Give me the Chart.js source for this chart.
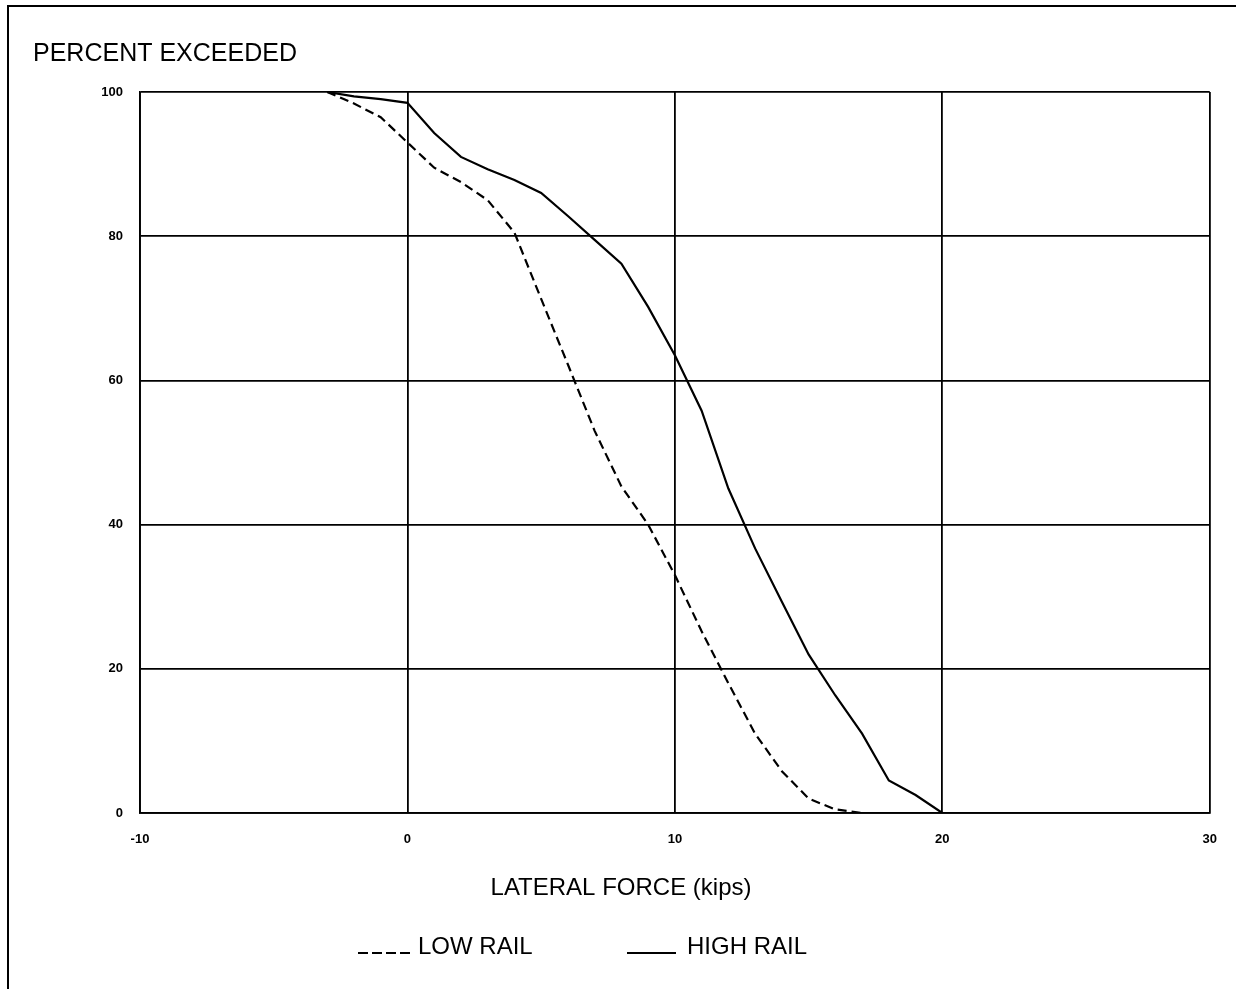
<!DOCTYPE html>
<html>
<head>
<meta charset="utf-8">
<title>Percent Exceeded vs Lateral Force</title>
<script src="https://cdn.jsdelivr.net/npm/chart.js@4/dist/chart.umd.min.js"></script>
<style>
  html, body { margin: 0; padding: 0; background: #fff; }
  canvas { display: block; }
</style>
</head>
<body>
<canvas id="chart" width="1236" height="989"></canvas>
<script>
// Lateral force (kips) and percent of wheel passes exceeding it
const lowRailForce = [-3, -2, -1, 0, 1, 2, 3, 4, 5, 6, 7, 8, 9, 10, 11, 12, 13, 14, 15, 16, 17];
const lowRailPct   = [100, 98.4, 96.5, 93, 89.5, 87.5, 85, 80.5, 71.3, 62.2, 53, 45.3, 40, 33, 25.2, 18, 11, 5.8, 2, 0.5, 0];

const highRailForce = [-3, -2, -1, 0, 1, 2, 3, 4, 5, 6, 7, 8, 9, 10, 11, 12, 13, 14, 15, 16, 17, 18, 19, 20];
const highRailPct   = [100, 99.4, 99, 98.5, 94.3, 91, 89.3, 87.8, 86, 82.8, 79.5, 76.2, 70.2, 63.5, 55.8, 45, 36.7, 29.3, 22, 16.3, 11, 4.5, 2.5, 0];

const xTicks = [-10, 0, 10, 20, 30];
const yTicks = [0, 20, 40, 60, 80, 100];

const seriesNames = ['LOW RAIL', 'HIGH RAIL'];
const yTitle = 'PERCENT EXCEEDED';
const xTitle = 'LATERAL FORCE (kips)';

const FONT = '"Liberation Sans", Arial, Helvetica, sans-serif';

function toPoints(xs, ys) {
  return xs.map((x, i) => ({ x: x, y: ys[i] }));
}

// Page frame, titles and the underline-style legend
const decorations = {
  id: 'decorations',
  beforeDraw(chart) {
    const ctx = chart.ctx;
    ctx.save();
    ctx.fillStyle = '#fff';
    ctx.fillRect(0, 0, chart.width, chart.height);
    ctx.strokeStyle = '#000';
    ctx.lineWidth = 2;
    ctx.beginPath();
    ctx.moveTo(8, chart.height);
    ctx.lineTo(8, 6);
    ctx.lineTo(chart.width, 6);
    ctx.stroke();
    ctx.restore();
  },
  afterDraw(chart) {
    const ctx = chart.ctx;
    ctx.save();
    ctx.fillStyle = '#000';
    ctx.textBaseline = 'alphabetic';

    ctx.font = '25px ' + FONT;
    ctx.textAlign = 'left';
    ctx.fillText(yTitle, 33, 61);

    ctx.font = '24px ' + FONT;
    ctx.textAlign = 'center';
    ctx.fillText(xTitle, 621, 895);

    // legend entries: short line sitting on the text baseline, then the label
    const entries = [
      { ds: chart.data.datasets[0], x0: 358, x1: 414, tx: 418 },
      { ds: chart.data.datasets[1], x0: 627, x1: 676, tx: 687 }
    ];
    const baseY = 954;
    entries.forEach(e => {
      ctx.strokeStyle = '#000';
      ctx.lineWidth = 1.8;
      ctx.setLineDash(e.ds.borderDash && e.ds.borderDash.length ? [10, 4] : []);
      ctx.beginPath();
      ctx.moveTo(e.x0, baseY - 1);
      ctx.lineTo(e.x1, baseY - 1);
      ctx.stroke();
      ctx.setLineDash([]);
      ctx.textAlign = 'left';
      ctx.font = '24px ' + FONT;
      ctx.fillText(e.ds.label, e.tx, baseY);
    });
    ctx.restore();
  }
};

new Chart(document.getElementById('chart'), {
  type: 'line',
  data: {
    datasets: [
      {
        label: seriesNames[0],
        data: toPoints(lowRailForce, lowRailPct),
        borderColor: '#000',
        borderWidth: 2.2,
        borderDash: [9, 5],
        pointRadius: 0,
        tension: 0,
        fill: false
      },
      {
        label: seriesNames[1],
        data: toPoints(highRailForce, highRailPct),
        borderColor: '#000',
        borderWidth: 2.2,
        pointRadius: 0,
        tension: 0,
        fill: false
      }
    ]
  },
  options: {
    responsive: false,
    devicePixelRatio: 1,
    animation: false,
    layout: { padding: { left: 0, top: 92, right: 24, bottom: 0 } },
    plugins: {
      legend: { display: false },
      title: { display: false },
      tooltip: { enabled: false }
    },
    scales: {
      x: {
        type: 'linear',
        min: xTicks[0],
        max: xTicks[xTicks.length - 1],
        afterBuildTicks(scale) { scale.ticks = xTicks.map(v => ({ value: v })); },
        afterFit(scale) { scale.height = 989 - 813; },
        ticks: {
          color: '#000',
          padding: 19,
          font: { family: FONT, size: 13, weight: 'bold' },
          maxRotation: 0
        },
        grid: { color: '#000', lineWidth: 1.8, drawTicks: false },
        border: { display: true, color: '#000', width: 1.8 }
      },
      y: {
        type: 'linear',
        min: yTicks[0],
        max: yTicks[yTicks.length - 1],
        afterBuildTicks(scale) { scale.ticks = yTicks.map(v => ({ value: v })); },
        afterFit(scale) { scale.width = 140; },
        ticks: {
          color: '#000',
          padding: 17,
          font: { family: FONT, size: 13, weight: 'bold' }
        },
        grid: { color: '#000', lineWidth: 1.8, drawTicks: false },
        border: { display: true, color: '#000', width: 1.8 }
      }
    }
  },
  plugins: [decorations]
});
</script>
</body>
</html>
